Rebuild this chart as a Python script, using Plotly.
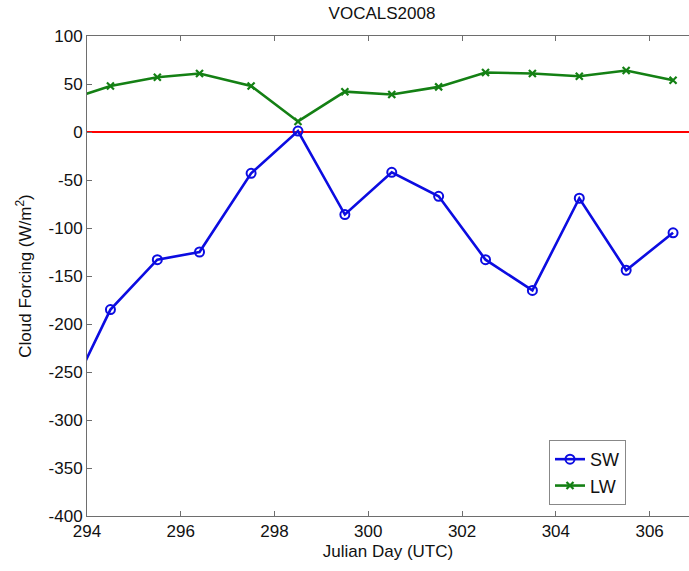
import plotly.graph_objects as go

# Julian day of each sample (first sample lies just left of the axis window)
days = [293.5, 294.5, 295.5, 296.4, 297.5, 298.5, 299.5, 300.5,
        301.5, 302.5, 303.5, 304.5, 305.5, 306.5]
# Shortwave cloud forcing (W/m^2)
sw = [-286, -185, -133, -125, -43, 1, -86, -42,
      -67, -133, -165, -69, -144, -105]
# Longwave cloud forcing (W/m^2)
lw = [32, 48, 57, 61, 48, 11, 42, 39,
      47, 62, 61, 58, 64, 54]

zero_x = [294, 307]
zero_y = [0, 0]

x_ticks = [294, 296, 298, 300, 302, 304, 306]
y_ticks = list(range(-400, 101, 50))

font = "Liberation Sans, Arial, sans-serif"
axis_grey = "#6e6e6e"

fig = go.Figure()

fig.add_trace(go.Scatter(
    x=zero_x, y=zero_y, mode="lines",
    line=dict(color="#ff0000", width=2.2),
    showlegend=False, hoverinfo="skip",
))
fig.add_trace(go.Scatter(
    x=days, y=sw, mode="lines+markers", name="SW",
    line=dict(color="rgb(12,12,225)", width=2.6),
    marker=dict(symbol="circle-open", size=9, color="rgb(12,12,225)",
                line=dict(width=2)),
))
fig.add_trace(go.Scatter(
    x=days, y=lw, mode="lines+markers", name="LW",
    line=dict(color="rgb(20,128,20)", width=2.6),
    marker=dict(symbol="x-thin-open", size=7, color="rgb(20,128,20)",
                line=dict(width=2.2, color="rgb(20,128,20)")),
))

fig.update_layout(
    width=689, height=571,
    margin=dict(l=87, r=0, t=36, b=55),
    paper_bgcolor="white", plot_bgcolor="white",
    font=dict(family=font, size=17, color="#111111"),
    title=dict(text="VOCALS2008", x=(382 - 87) / 602, xref="paper",
               xanchor="center", y=0.977, yanchor="middle",
               font=dict(size=17)),
    legend=dict(
        x=(549 - 87) / 602, y=0.023, xanchor="left", yanchor="bottom",
        bgcolor="white", bordercolor="#888888", borderwidth=1,
        font=dict(size=18), itemwidth=30, tracegroupgap=0,
    ),
    showlegend=True,
)

fig.update_xaxes(
    range=[294, 306.84], tickvals=x_ticks, ticktext=[str(t) for t in x_ticks],
    showgrid=False, zeroline=False,
    showline=True, linecolor=axis_grey, linewidth=1, mirror="ticks",
    ticks="inside", ticklen=5, tickcolor=axis_grey,
    tickfont=dict(size=17), ticklabelstandoff=0,
    title=dict(text="Julian Day (UTC)", font=dict(size=17), standoff=4),
)
fig.update_yaxes(
    range=[-400, 100], tickvals=y_ticks, ticktext=[str(t) for t in y_ticks],
    showgrid=False, zeroline=False,
    showline=True, linecolor=axis_grey, linewidth=1,
    ticks="inside", ticklen=5, tickcolor=axis_grey,
    tickfont=dict(size=17),
    title=dict(text="Cloud Forcing (W/m<sup>2</sup>)", font=dict(size=17),
               standoff=12),
)

fig.write_html("out.html")
